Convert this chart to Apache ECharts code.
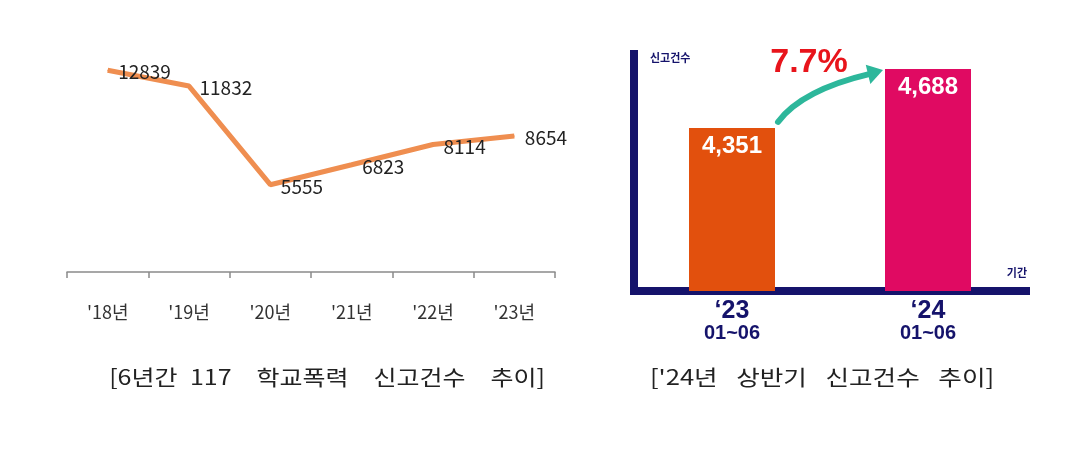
<!DOCTYPE html>
<html>
<head>
<meta charset="utf-8">
<script src="https://cdn.jsdelivr.net/npm/echarts@6/dist/echarts.min.js"></script>
<style>
html,body{margin:0;padding:0;background:#fff;}
#c{width:1076px;height:456px;}
</style>
</head>
<body>
<div id="c"></div>
<script>
// Left chart: 6-year reports
const years = ["'18년", "'19년", "'20년", "'21년", "'22년", "'23년"];
const reports = [12839, 11832, 5555, 6823, 8114, 8654];
// Right chart: first-half reports
const halfCats = ["‘23", "‘24"];
const halfSub = ["01~06", "01~06"];
const halfValues = [4351, 4688];
const halfColors = ["#E2500D", "#E00A62"];
const growthLabel = "7.7%";
const leftCaption = "[6년간\u2002117\u3000학교폭력\u3000신고건수\u3000추이]";
const rightCaption = "['24년\u2002 상반기\u2002 신고건수\u2002 추이]";

const NAVY = "#15136B";
const chart = echarts.init(document.getElementById('c'), null, {renderer: 'canvas'});

const option = {
  backgroundColor: '#ffffff',
  animation: false,
  grid: [
    {left: 67, top: 52, width: 488, height: 220},
    {left: 634, top: 50, width: 392, height: 241}
  ],
  xAxis: [
    {
      gridIndex: 0, type: 'category', data: years, boundaryGap: true,
      axisLine: {lineStyle: {color: '#8a8a8a', width: 1.5}},
      axisTick: {show: true, length: 6, lineStyle: {color: '#8a8a8a', width: 1.5}},
      axisLabel: {color: '#333', fontSize: 18, margin: 31, fontFamily: 'Noto Sans CJK KR'}
    },
    {
      gridIndex: 1, type: 'category', data: halfCats, boundaryGap: true,
      axisLine: {lineStyle: {color: NAVY, width: 8, cap: 'square'}},
      axisTick: {show: false},
      axisLabel: {
        margin: 9,
        formatter: function (v, i) { return '{a|' + v + '}\n{b|' + halfSub[i] + '}'; },
        rich: {
          a: {color: NAVY, fontSize: 25, fontWeight: 900, fontFamily: 'Liberation Sans', lineHeight: 23},
          b: {color: NAVY, fontSize: 20, fontWeight: 900, fontFamily: 'Liberation Sans', lineHeight: 21}
        }
      }
    }
  ],
  yAxis: [
    {gridIndex: 0, type: 'value', min: 0, max: 14000, show: false, splitLine: {show: false}},
    {
      gridIndex: 1, type: 'value', min: 3420, max: 4796,
      axisLine: {show: true, lineStyle: {color: NAVY, width: 8, cap: 'butt'}},
      axisTick: {show: false}, axisLabel: {show: false}, splitLine: {show: false}
    }
  ],
  series: [
    {
      type: 'line', xAxisIndex: 0, yAxisIndex: 0, data: reports,
      symbol: 'circle', symbolSize: 1,
      itemStyle: {color: '#EF8E50'},
      lineStyle: {color: '#EF8E50', width: 5},
      label: {
        show: true, position: 'right', distance: 10, offset: [0, 2],
        color: '#222', fontSize: 19, fontFamily: 'Noto Sans CJK KR'
      }
    },
    {
      type: 'bar', xAxisIndex: 1, yAxisIndex: 1, barWidth: 86,
      data: halfValues.map((v, i) => ({value: v, itemStyle: {color: halfColors[i]}})),
      label: {
        show: true, position: 'insideTop', distance: 6,
        color: '#fff', fontSize: 24, fontWeight: 'bold', fontFamily: 'Liberation Sans',
        formatter: p => p.value.toLocaleString('en-US')
      }
    }
  ]
};
chart.setOption(option);

// Annotation arrow between the bars, positioned from the data
const p0 = chart.convertToPixel({xAxisIndex: 1, yAxisIndex: 1}, [0, halfValues[0]]);
const p1 = chart.convertToPixel({xAxisIndex: 1, yAxisIndex: 1}, [1, halfValues[1]]);
const sx = p0[0] + 46, sy = p0[1] - 6;
const tipX = p1[0] - 45, tipY = p1[1] + 1;
const ex = tipX - 13, ey = tipY + 4;
const cx = sx + 24, cy = sy - 32;
const dx = ex - cx, dy = ey - cy, len = Math.sqrt(dx*dx + dy*dy);
const ux = dx/len, uy = dy/len, nx = -uy, ny = ux;
const hw = 10;

chart.setOption({
  graphic: [
    {
      type: 'bezierCurve', silent: true,
      shape: {x1: sx, y1: sy, x2: ex, y2: ey, cpx1: cx, cpy1: cy},
      style: {stroke: '#2DB79B', lineWidth: 6, fill: null, lineCap: 'round'}
    },
    {
      type: 'polygon', silent: true,
      shape: {points: [[tipX, tipY], [ex - ux*2 + nx*hw, ey - uy*2 + ny*hw], [ex - ux*2 - nx*hw, ey - uy*2 - ny*hw]]},
      style: {fill: '#2DB79B'}
    },
    {
      type: 'text', silent: true, position: [809, 63],
      style: {
        text: growthLabel, textAlign: 'center', textVerticalAlign: 'middle',
        fill: '#E8141B', stroke: '#ffffff', lineWidth: 2,
        font: 'bold 34px "Liberation Sans"'
      }
    },
    {
      type: 'text', silent: true, position: [650, 58],
      style: {text: '신고건수', fill: NAVY, font: 'bold 11px "Noto Sans CJK KR"', textVerticalAlign: 'middle'}
    },
    {
      type: 'text', silent: true, position: [1027, 273],
      style: {text: '기간', fill: NAVY, font: 'bold 11px "Noto Sans CJK KR"', textAlign: 'right', textVerticalAlign: 'middle'}
    },
    {
      type: 'text', silent: true, position: [327, 377], scaleX: 1.19,
      style: {text: leftCaption, fill: '#222', font: '21px "Noto Sans CJK KR"', textAlign: 'center', textVerticalAlign: 'middle'}
    },
    {
      type: 'text', silent: true, position: [822, 377], scaleX: 1.22,
      style: {text: rightCaption, fill: '#222', font: '21px "Noto Sans CJK KR"', textAlign: 'center', textVerticalAlign: 'middle'}
    }
  ]
});
</script>
</body>
</html>
